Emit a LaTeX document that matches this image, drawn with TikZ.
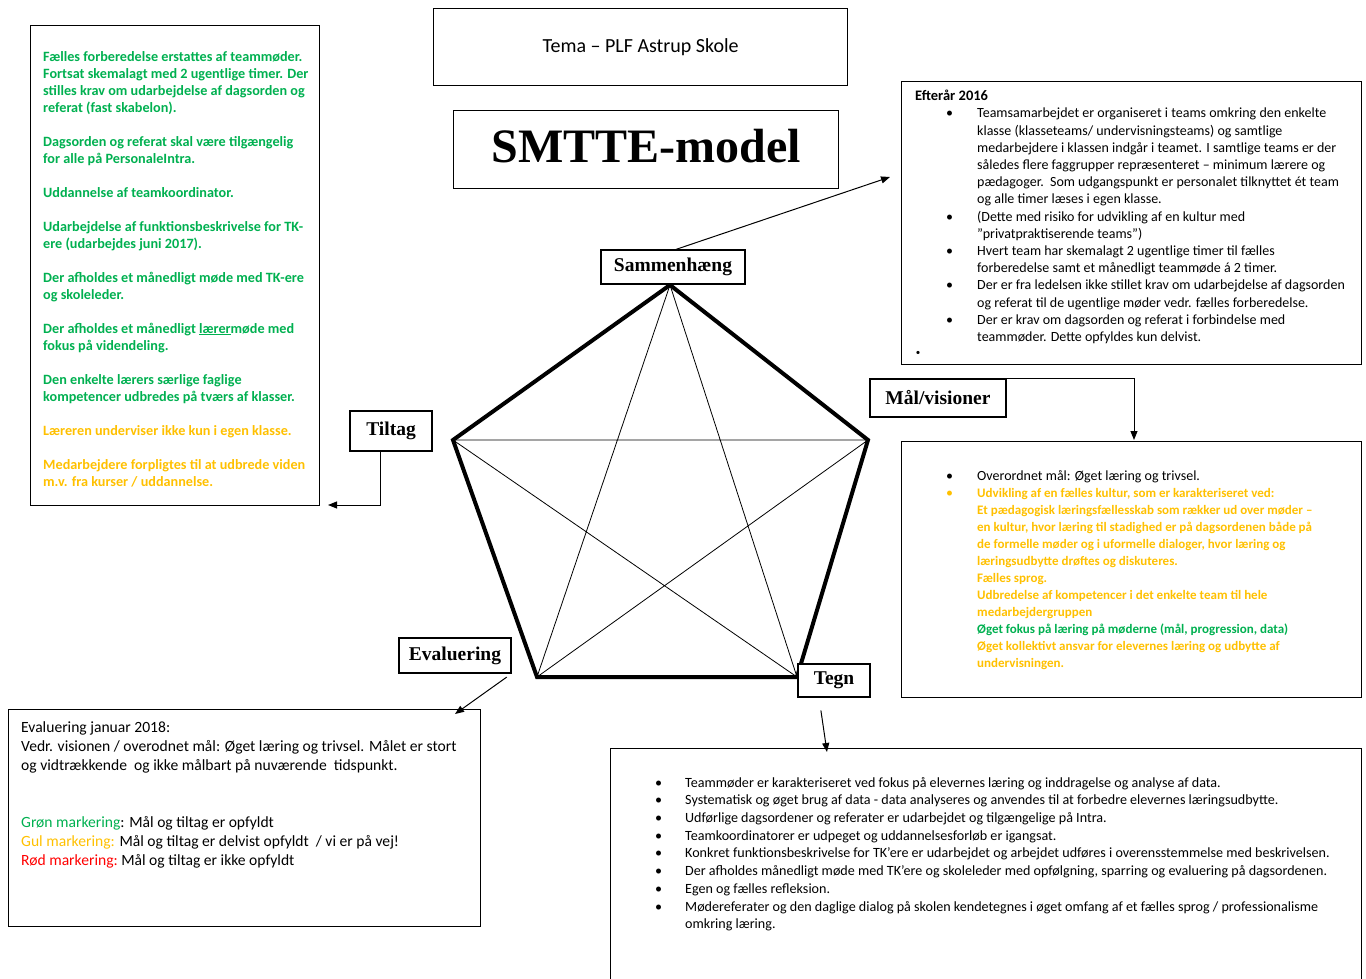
\documentclass[tikz,border=0pt]{standalone}
\usepackage{fontspec}
\setmainfont{Carlito}
\newfontfamily\lblfont{Liberation Serif}
\usetikzlibrary{arrows.meta}
\definecolor{grn}{HTML}{00B050}
\definecolor{org}{HTML}{FFC000}
\definecolor{rod}{HTML}{FF0000}
\newcommand{\bul}[1]{\makebox[#1][l]{\textbullet}}
\newcommand{\ind}[1]{\hspace*{#1}}
\newcommand{\gul}[1]{\textcolor{org}{\bfseries\fontsize{13}{17}\selectfont #1}}
\newcommand{\gron}[1]{\textcolor{grn}{\bfseries\fontsize{13}{17}\selectfont #1}}

\begin{document}
\begin{tikzpicture}[x=1pt, y=-1pt,
    frame/.style={draw, line width=1.2pt, inner sep=0pt, anchor=north west},
    lbl/.style={draw, fill=white, line width=1.2pt, inner sep=0pt, font=\lblfont\bfseries\fontsize{19.5}{21}\selectfont},
    txt/.style={anchor=north west, inner sep=0pt, align=left},
    rim/.style={line width=4pt},
    arr/.style={line width=1pt, -{Triangle[length=9pt, width=7pt]}}]
  \useasboundingbox (0,0) rectangle (1366,979);

  % headings
  \node[frame, minimum width=414pt, minimum height=77pt, font=\fontsize{20}{22}\selectfont] (tema) at (433,8) {\raisebox{-8pt}{Tema -- PLF Astrup Skole}};
  \node[frame, minimum width=385pt, minimum height=78pt, font=\lblfont\bfseries\fontsize{48}{50}\selectfont] (smtte) at (453,110) {\raisebox{8pt}{SMTTE-model}};

  % pentagon
  \coordinate (ptop) at (670,285);
  \coordinate (plt) at (453,440);
  \coordinate (prt) at (868,440);
  \coordinate (pbl) at (537,677);
  \coordinate (pbr) at (797,677);
  \draw[line width=0.8pt] (ptop) -- (pbl) (ptop) -- (pbr) (plt) -- (prt) (plt) -- (pbr) (prt) -- (pbl);
  \draw[rim] (ptop) -- (prt) -- (pbr) -- (pbl) -- (plt) -- cycle;

  % corner labels
  \node[lbl, minimum width=144pt, minimum height=34pt] (samm) at (673,267) {Sammenhæng};
  \node[lbl, minimum width=82pt, minimum height=40pt] (tiltag) at (391,431) {Tiltag};
  \node[lbl, minimum width=136pt, minimum height=38pt] (maal) at (938,398) {Mål/visioner};
  \node[lbl, minimum width=112pt, minimum height=35pt] (evalu) at (455,655.5) {Evaluering};
  \node[lbl, minimum width=72pt, minimum height=33pt] (tegn) at (834,680.5) {Tegn};

  % content boxes
  \node[frame, minimum width=289pt, minimum height=480pt] (tiltagbox) at (30,25) {};
  \node[frame, minimum width=460pt, minimum height=283pt] (sammbox) at (901,81) {};
  \node[frame, minimum width=460pt, minimum height=256pt] (maalbox) at (901,441) {};
  \node[frame, minimum width=751pt, minimum height=245pt] (tegnbox) at (610,748) {};
  \node[frame, minimum width=472pt, minimum height=217pt] (evalbox) at (8,709) {};

  % arrows
  \coordinate (sammtip) at (890,177);
  \coordinate (tiltagtip) at (328,505);
  \coordinate (maaltip) at (1134,440);
  \coordinate (evaltip) at (455,714);
  \coordinate (tegntip) at (827,752);
  \draw[arr] ([xshift=3pt]samm.north) -- (sammtip);
  \draw[arr] ([xshift=-11pt]tiltag.south) |- (tiltagtip);
  \draw[arr] (maal.north east) -| (maaltip);
  \draw[arr, shorten <=6pt] (evalu.south east) -- (evaltip);
  \draw[arr, shorten <=13pt] ([xshift=-15pt]tegn.south) -- (tegntip);

  % texts
  \node[txt, text=grn, font=\bfseries\fontsize{14.2}{17}\selectfont] (tiltagtxt) at (43,51) {Fælles forberedelse erstattes af teammøder.\\
    Fortsat skemalagt med 2 ugentlige timer. Der\\
    stilles krav om udarbejdelse af dagsorden og\\
    referat (fast skabelon).\\[17pt]
    Dagsorden og referat skal være tilgængelig\\
    for alle på PersonaleIntra.\\[17pt]
    Uddannelse af teamkoordinator.\\[17pt]
    Udarbejdelse af funktionsbeskrivelse for TK-\\
    ere (udarbejdes juni 2017).\\[17pt]
    Der afholdes et månedligt møde med TK-ere\\
    og skoleleder.\\[17pt]
    Der afholdes et månedligt \underline{lærer}møde med\\
    fokus på videndeling.\\[17pt]
    Den enkelte lærers særlige faglige\\
    kompetencer udbredes på tværs af klasser.\\[17pt]
    \textcolor{org}{Læreren underviser ikke kun i egen klasse.}\\[17pt]
    \textcolor{org}{Medarbejdere forpligtes til at udbrede viden}\\
    \textcolor{org}{m.v. fra kurser / uddannelse.}};

  \node[txt, font=\bfseries\fontsize{14.5}{17}\selectfont] (sammhead) at (915,90) {Efterår 2016};
  \node[txt, font=\fontsize{14}{17.2}\selectfont] (sammtxt) at (946,108) {\bul{31pt}Teamsamarbejdet er organiseret i teams omkring den enkelte\\
    \ind{31pt}klasse (klasseteams/ undervisningsteams) og samtlige\\
    \ind{31pt}medarbejdere i klassen indgår i teamet. I samtlige teams er der\\
    \ind{31pt}således flere faggrupper repræsenteret -- minimum lærere og\\
    \ind{31pt}pædagoger.\ \ Som udgangspunkt er personalet tilknyttet ét team\\
    \ind{31pt}og alle timer læses i egen klasse.\\
    \bul{31pt}(Dette med risiko for udvikling af en kultur med\\
    \ind{31pt}”privatpraktiserende teams”)\\
    \bul{31pt}Hvert team har skemalagt 2 ugentlige timer til fælles\\
    \ind{31pt}forberedelse samt et månedligt teammøde á 2 timer.\\
    \bul{31pt}Der er fra ledelsen ikke stillet krav om udarbejdelse af dagsorden\\
    \ind{31pt}og referat til de ugentlige møder vedr. fælles forberedelse.\\
    \bul{31pt}Der er krav om dagsorden og referat i forbindelse med\\
    \ind{31pt}teammøder. Dette opfyldes kun delvist.};
  \node[inner sep=0pt, font=\fontsize{9}{10}\selectfont] (sammdot) at (918,353) {\textbullet};

  \node[txt, font=\fontsize{14}{17}\selectfont] (maaltxt) at (946,470) {\bul{31pt}Overordnet mål: Øget læring og trivsel.\\
    \textcolor{org}{\bul{31pt}}\gul{Udvikling af en fælles kultur, som er karakteriseret ved:}\\
    \ind{31pt}\gul{Et pædagogisk læringsfællesskab som rækker ud over møder --}\\
    \ind{31pt}\gul{en kultur, hvor læring til stadighed er på dagsordenen både på}\\
    \ind{31pt}\gul{de formelle møder og i uformelle dialoger, hvor læring og}\\
    \ind{31pt}\gul{læringsudbytte drøftes og diskuteres.}\\
    \ind{31pt}\gul{Fælles sprog.}\\
    \ind{31pt}\gul{Udbredelse af kompetencer i det enkelte team til hele}\\
    \ind{31pt}\gul{medarbejdergruppen}\\
    \ind{31pt}\gron{Øget fokus på læring på møderne (mål, progression, data)}\\
    \ind{31pt}\gul{Øget kollektivt ansvar for elevernes læring og udbytte af}\\
    \ind{31pt}\gul{undervisningen.}};

  \node[txt, font=\fontsize{14.1}{17.7}\selectfont] (tegntxt) at (655,777) {\bul{30pt}Teammøder er karakteriseret ved fokus på elevernes læring og inddragelse og analyse af data.\\
    \bul{30pt}Systematisk og øget brug af data - data analyseres og anvendes til at forbedre elevernes læringsudbytte.\\
    \bul{30pt}Udførlige dagsordener og referater er udarbejdet og tilgængelige på Intra.\\
    \bul{30pt}Teamkoordinatorer er udpeget og uddannelsesforløb er igangsat.\\
    \bul{30pt}Konkret funktionsbeskrivelse for TK’ere er udarbejdet og arbejdet udføres i overensstemmelse med beskrivelsen.\\
    \bul{30pt}Der afholdes månedligt møde med TK’ere og skoleleder med opfølgning, sparring og evaluering på dagsordenen.\\
    \bul{30pt}Egen og fælles refleksion.\\
    \bul{30pt}Mødereferater og den daglige dialog på skolen kendetegnes i øget omfang af et fælles sprog / professionalisme\\
    \ind{30pt}omkring læring.};

  \node[txt, font=\fontsize{15.6}{19}\selectfont] (evaltxt) at (21,721) {Evaluering januar 2018:\\
    Vedr. visionen / overodnet mål: Øget læring og trivsel. Målet er stort\\
    og vidtrækkende\ \ og ikke målbart på nuværende\ \ tidspunkt.\\[38pt]
    \textcolor{grn}{Grøn markering}: Mål og tiltag er opfyldt\\
    \textcolor{org}{Gul markering:} Mål og tiltag er delvist opfyldt\ \ / vi er på vej!\\
    \textcolor{rod}{Rød markering:}\ Mål og tiltag er ikke opfyldt};
\end{tikzpicture}
\end{document}
